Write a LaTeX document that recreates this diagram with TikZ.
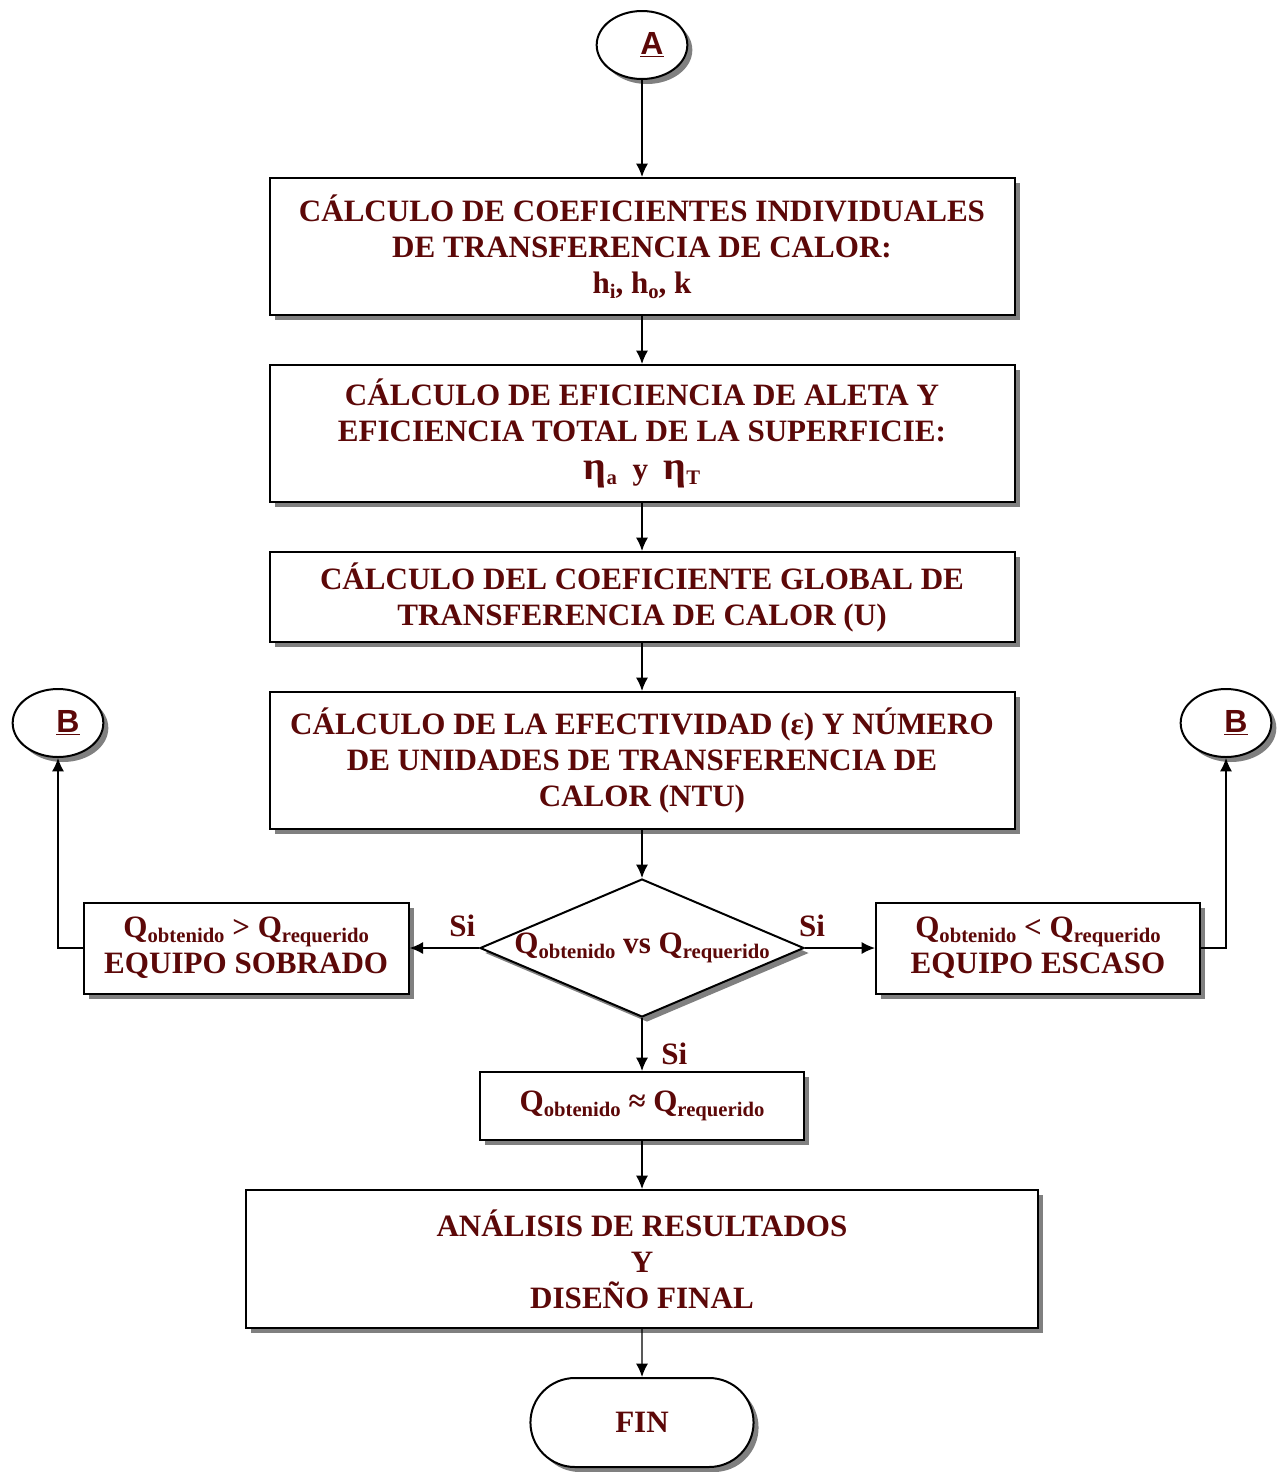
\documentclass[tikz,border=0pt]{standalone}
\usepackage{fontspec}
\setmainfont{Liberation Serif}
\newfontfamily\connfont{Liberation Sans}
\usetikzlibrary{arrows.meta,positioning,shadows,shapes.geometric,shapes.misc}
\definecolor{txtred}{RGB}{92,8,8}
\newcommand{\subidx}[1]{\raisebox{-0.35ex}{\fontsize{15.5}{15.5}\selectfont #1}}
\newcommand{\etaidx}{{\fontsize{30}{30}\selectfont η}}

\tikzset{
  shade/.style = {drop shadow={shadow xshift=3.75pt, shadow yshift=-3.75pt, opacity=1, fill=black!50}},
  txt/.style = {text=txtred, font=\fontsize{23.3}{27}\selectfont\bfseries, align=center},
  box/.style = {rectangle, draw, line width=1.5pt, fill=white, shade, txt, inner sep=0pt},
  conn/.style = {ellipse, draw, line width=1.5pt, fill=white, shade, inner sep=0pt,
    minimum width=68pt, minimum height=51pt, text=txtred, font=\connfont\fontsize{24}{24}\selectfont\bfseries},
  decision/.style = {diamond, draw, line width=1.5pt, fill=white, shade, inner sep=0pt},
  terminal/.style = {rounded rectangle, draw, line width=1.5pt, fill=white, shade, txt},
  si/.style = {txt, inner sep=4pt}
}

\begin{document}
\begin{tikzpicture}[x=0.75pt, y=-0.75pt, node distance=36pt, >={Latex[length=10pt,width=9pt]}, line width=1.1pt]
\useasboundingbox (0,0) rectangle (1285,1472);

\node[conn] (A) at (642,45) {\hspace{15pt}\underline{A}};
\node[box, minimum width=558.75pt, minimum height=102.75pt] (c_1) [below=72.75pt of A]
  {CÁLCULO DE COEFICIENTES INDIVIDUALES\\ DE TRANSFERENCIA DE CALOR:\\ h\subidx{i}, h\subidx{o}, k};
\node[box, minimum width=558.75pt, minimum height=102.75pt] (c_2) [below=of c_1]
  {CÁLCULO DE EFICIENCIA DE ALETA Y\\ EFICIENCIA TOTAL DE LA SUPERFICIE:\\[2pt] \etaidx\subidx{a}\ \ y\ \ \etaidx\subidx{T}};
\node[box, minimum width=558.75pt, minimum height=67.5pt] (c_3) [below=of c_2]
  {CÁLCULO DEL COEFICIENTE GLOBAL DE\\ TRANSFERENCIA DE CALOR (U)};
\node[box, minimum width=558.75pt, minimum height=102.75pt] (c_4) [below=of c_3]
  {CÁLCULO DE LA EFECTIVIDAD (ε) Y NÚMERO\\ DE UNIDADES DE TRANSFERENCIA DE\\ CALOR (NTU)};
\node[decision, minimum width=243pt, minimum height=103.5pt,
  label={[txt]center:Q\subidx{obtenido} vs Q\subidx{requerido}}] (d) [below=of c_4] {};
\node[box, minimum width=243.75pt, minimum height=68.25pt] (s_L) [left=52pt of d]
  {Q\subidx{obtenido} > Q\subidx{requerido}\\ EQUIPO SOBRADO};
\node[box, minimum width=243pt, minimum height=68.25pt] (s_R) [right=52.5pt of d]
  {Q\subidx{obtenido} < Q\subidx{requerido}\\ EQUIPO ESCASO};
\node[box, minimum width=243pt, minimum height=51pt] (q) [below=39.75pt of d]
  {Q\subidx{obtenido} ≈ Q\subidx{requerido}};
\node[box, minimum width=594pt, minimum height=103.5pt] (r) [below=of q]
  {ANÁLISIS DE RESULTADOS\\ Y\\ DISEÑO FINAL};
\node[terminal, minimum width=174pt, minimum height=66.75pt] (fin) [below=of r] {FIN};
\node[conn] (B_L) at (58,723) {\hspace{15pt}\underline{B}};
\node[conn] (B_R) at (1226,723) {\hspace{15pt}\underline{B}};

\draw[->] (A) -- (c_1);
\draw[->] (c_1) -- (c_2);
\draw[->] (c_2) -- (c_3);
\draw[->] (c_3) -- (c_4);
\draw[->] (c_4) -- (d);
\draw[->] (d.west) -- node[si, above, pos=0.24, yshift=4pt] {Si} (s_L);
\draw[->] (d.east) -- node[si, above, pos=0.1, yshift=4pt] {Si} (s_R);
\draw[->] (d.south) -- node[si, right, pos=0.68, xshift=10pt] {Si} (q);
\draw[->] (q) -- (r);
\draw[->] (r) -- (fin);
\draw[->] (s_L.west) -| (B_L);
\draw[->] (s_R.east) -| (B_R);
\end{tikzpicture}
\end{document}
